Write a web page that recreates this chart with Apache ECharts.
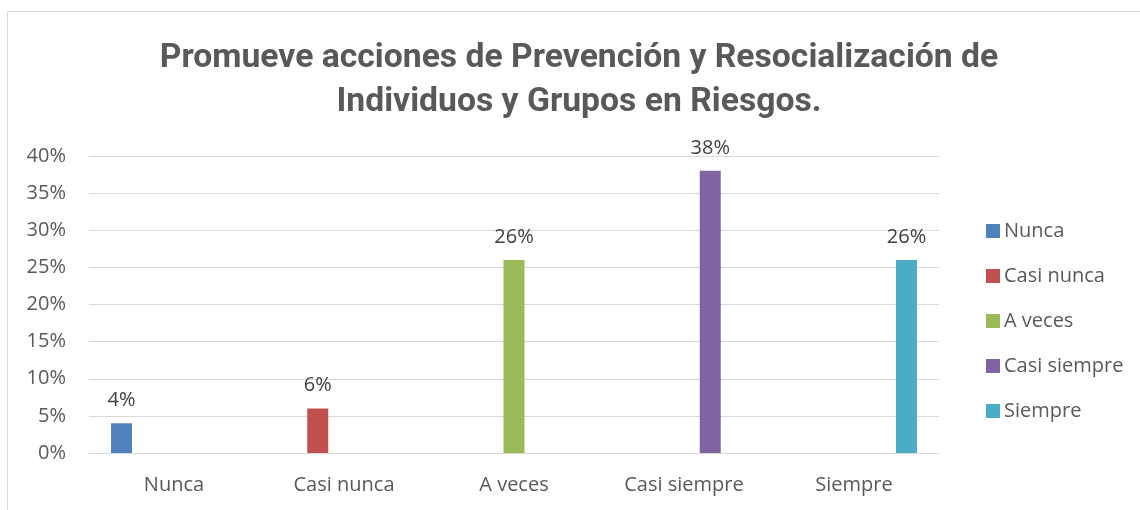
<!DOCTYPE html>
<html>
<head>
<meta charset="utf-8">
<script src="https://cdn.jsdelivr.net/npm/echarts@6/dist/echarts.min.js"></script>
<style>
  html, body { margin: 0; padding: 0; background: #fff; }
  #chart { width: 1140px; height: 510px; }
</style>
</head>
<body>
<div id="chart"></div>
<script>
// categorias y valores (fraccion)
const categories = ["Nunca", "Casi nunca", "A veces", "Casi siempre", "Siempre"];
const values = [0.04, 0.06, 0.26, 0.38, 0.26];
const colors = ["#4f81bd", "#c0504d", "#9bbb59", "#8064a2", "#4bacc6"];
const yTicks = { min: 0, max: 0.4, interval: 0.05 };

const textFont = "Open Sans";
const pct = (v) => Math.round(v * 100) + "%";

// cada serie solo tiene valor en su propia categoria (como en Excel)
const series = categories.map((name, i) => ({
  name: name,
  type: "bar",
  barWidth: 21,
  barGap: "25%",
  itemStyle: { color: colors[i] },
  label: {
    show: true,
    position: "top",
    distance: 13,
    color: "#404040",
    fontFamily: textFont,
    fontSize: 20,
    formatter: (p) => pct(p.value),
  },
  data: categories.map((c, j) => (j === i ? values[i] : null)),
}));

const chart = echarts.init(document.getElementById("chart"));
chart.setOption({
  animation: false,
  title: {
    text: "Promueve acciones de Prevención y Resocialización de\nIndividuos y Grupos en Riesgos.",
    left: 574,
    top: 32,
    textAlign: "center",
    textStyle: {
      fontFamily: "Roboto",
      fontWeight: "bold",
      fontSize: 33.7,
      lineHeight: 44,
      color: "#595959",
    },
  },
  graphic: [
    {
      type: "rect",
      shape: { x: 7.5, y: 11.5, width: 1300, height: 700 },
      style: { fill: null, stroke: "#d9d9d9", lineWidth: 1 },
      silent: true,
    },
  ],
  legend: {
    orient: "vertical",
    left: 981,
    top: 216,
    itemWidth: 14,
    itemHeight: 14,
    itemGap: 25,
    icon: "rect",
    textStyle: {
      fontFamily: textFont,
      fontSize: 20,
      lineHeight: 20,
      color: "#595959",
      padding: [0, 0, 0, -1],
    },
    data: categories,
  },
  grid: { left: 89, right: 201, top: 156, bottom: 57 },
  xAxis: {
    type: "category",
    data: categories,
    axisLine: { lineStyle: { color: "#d9d9d9", width: 1 } },
    axisTick: { show: false },
    axisLabel: {
      fontFamily: textFont,
      fontSize: 20,
      color: "#595959",
      margin: 22,
    },
  },
  yAxis: {
    type: "value",
    min: yTicks.min,
    max: yTicks.max,
    interval: yTicks.interval,
    axisLine: { show: false },
    axisTick: { show: false },
    splitLine: { lineStyle: { color: "#d9d9d9", width: 1 } },
    axisLabel: {
      fontFamily: textFont,
      fontSize: 20,
      color: "#595959",
      margin: 23,
      formatter: (v) => pct(v),
    },
  },
  series: series,
});
</script>
</body>
</html>
